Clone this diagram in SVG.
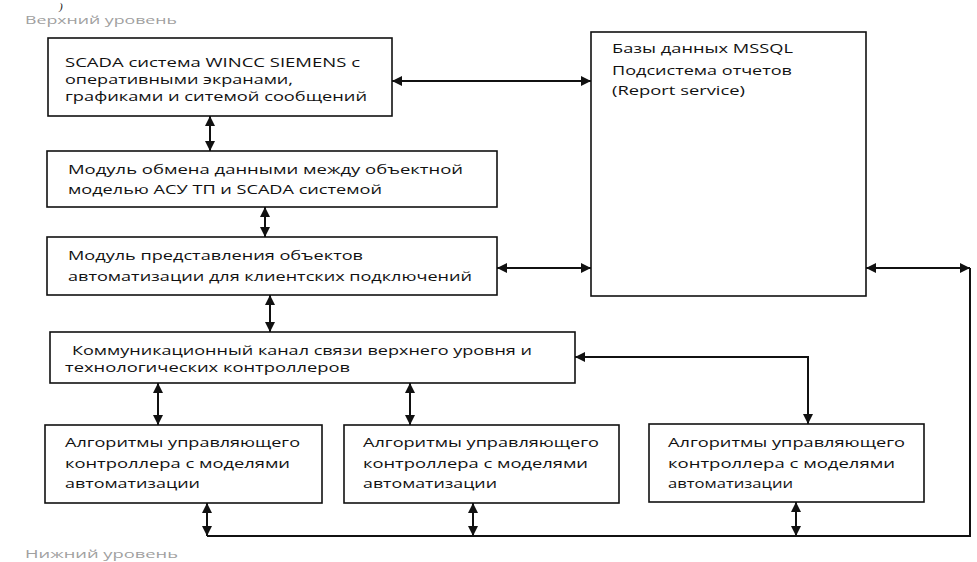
<svg xmlns="http://www.w3.org/2000/svg" width="977" height="562" viewBox="0 0 977 562">
<style>
.box{fill:#fff;stroke:#111;stroke-width:1.6}
.t{font-family:"Open Sans","Liberation Sans",sans-serif;font-size:12.5px;fill:#111}
.lbl{font-family:"Open Sans","Liberation Sans",sans-serif;font-size:11px;fill:#a0a0a0}
.c{fill:none;stroke:#111;stroke-width:2}
.ca{fill:none;stroke:#111;stroke-width:2;marker-start:url(#ah);marker-end:url(#ah)}
</style>
<defs>
<marker id="ah" viewBox="0 0 10 10" refX="10" refY="5" markerWidth="10" markerHeight="10" markerUnits="userSpaceOnUse" orient="auto-start-reverse">
<path d="M0,0 L10,5 L0,10 z" fill="#111"/>
</marker>
</defs>
<rect width="977" height="562" fill="#fff"/>
<text x="59" y="10" font-family="Liberation Serif,serif" font-style="italic" font-size="11" fill="#111">)</text>
<text class="lbl" x="25" y="24" textLength="152" lengthAdjust="spacingAndGlyphs">Верхний уровень</text>
<text class="lbl" x="25" y="558" textLength="153" lengthAdjust="spacingAndGlyphs">Нижний уровень</text>

<g id="connectors">
<line class="ca" x1="392" y1="81" x2="591" y2="81"/>
<line class="ca" x1="210" y1="116" x2="210" y2="151"/>
<line class="ca" x1="265" y1="207" x2="265" y2="237"/>
<line class="ca" x1="497" y1="268" x2="591" y2="268"/>
<line class="ca" x1="270" y1="295" x2="270" y2="332"/>
<line class="ca" x1="158" y1="383" x2="158" y2="425"/>
<line class="ca" x1="410" y1="383" x2="410" y2="425"/>
<path class="ca" d="M575,357 H808 V424"/>
<line class="ca" x1="207" y1="503" x2="207" y2="536"/>
<line class="ca" x1="473" y1="503" x2="473" y2="536"/>
<line class="ca" x1="796" y1="502" x2="796" y2="536"/>
<path class="c" d="M207,536 H970 V268"/>
<line class="ca" x1="866" y1="268" x2="970" y2="268"/>
</g>

<g id="scada">
<rect class="box" x="48" y="38" width="344" height="78"/>
<text class="t" x="65" y="67" textLength="295" lengthAdjust="spacingAndGlyphs">SCADA система WINCC SIEMENS с</text>
<text class="t" x="65" y="84" textLength="228" lengthAdjust="spacingAndGlyphs">оперативными экранами,</text>
<text class="t" x="65" y="101" textLength="302" lengthAdjust="spacingAndGlyphs">графиками и ситемой сообщений</text>
</g>

<g id="db">
<rect class="box" x="591" y="32" width="275" height="264"/>
<text class="t" x="612" y="53" textLength="181" lengthAdjust="spacingAndGlyphs">Базы данных MSSQL</text>
<text class="t" x="612" y="75" textLength="180" lengthAdjust="spacingAndGlyphs">Подсистема отчетов</text>
<text class="t" x="612" y="95" textLength="133" lengthAdjust="spacingAndGlyphs">(Report service)</text>
</g>

<g id="exchange">
<rect class="box" x="47" y="151" width="450" height="56"/>
<text class="t" x="68" y="174" textLength="395" lengthAdjust="spacingAndGlyphs">Модуль обмена данными между объектной</text>
<text class="t" x="68" y="194" textLength="314" lengthAdjust="spacingAndGlyphs">моделью АСУ ТП и SCADA системой</text>
</g>

<g id="representation">
<rect class="box" x="47" y="237" width="450" height="58"/>
<text class="t" x="68" y="260" textLength="295" lengthAdjust="spacingAndGlyphs">Модуль представления объектов</text>
<text class="t" x="68" y="281" textLength="404" lengthAdjust="spacingAndGlyphs">автоматизации для клиентских подключений</text>
</g>

<g id="channel">
<rect class="box" x="50" y="332" width="525" height="51"/>
<text class="t" x="72" y="355" textLength="460" lengthAdjust="spacingAndGlyphs">Коммуникационный канал связи верхнего уровня и</text>
<text class="t" x="65" y="372" textLength="285" lengthAdjust="spacingAndGlyphs">технологических контроллеров</text>
</g>

<g id="ctrl1">
<rect class="box" x="45" y="425" width="277" height="78"/>
<text class="t" x="65" y="447" textLength="235" lengthAdjust="spacingAndGlyphs">Алгоритмы управляющего</text>
<text class="t" x="65" y="468" textLength="225" lengthAdjust="spacingAndGlyphs">контроллера с моделями</text>
<text class="t" x="65" y="488" textLength="135" lengthAdjust="spacingAndGlyphs">автоматизации</text>
</g>

<g id="ctrl2">
<rect class="box" x="344" y="425" width="275" height="78"/>
<text class="t" x="363" y="447" textLength="236" lengthAdjust="spacingAndGlyphs">Алгоритмы управляющего</text>
<text class="t" x="363" y="468" textLength="225" lengthAdjust="spacingAndGlyphs">контроллера с моделями</text>
<text class="t" x="363" y="488" textLength="134" lengthAdjust="spacingAndGlyphs">автоматизации</text>
</g>

<g id="ctrl3">
<rect class="box" x="649" y="424" width="275" height="78"/>
<text class="t" x="668" y="447" textLength="237" lengthAdjust="spacingAndGlyphs">Алгоритмы управляющего</text>
<text class="t" x="668" y="468" textLength="227" lengthAdjust="spacingAndGlyphs">контроллера с моделями</text>
<text class="t" x="668" y="488" textLength="125" lengthAdjust="spacingAndGlyphs">автоматизации</text>
</g>
</svg>
